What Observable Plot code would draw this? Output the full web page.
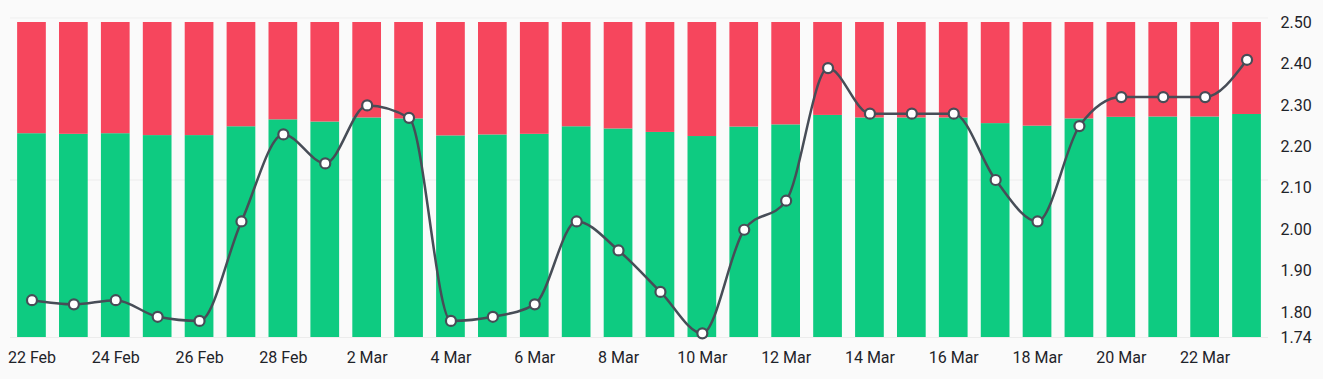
<!DOCTYPE html>
<html>
<head>
<meta charset="utf-8">
<script src="https://cdn.jsdelivr.net/npm/d3@7"></script>
<script src="https://cdn.jsdelivr.net/npm/@observablehq/plot@0.6"></script>
<style>
  html, body { margin: 0; padding: 0; background: #fafafa; }
  #chart { position: relative; width: 1323px; height: 379px; }
  #chart svg { position: absolute; left: 0; top: 0; }
</style>
</head>
<body>
<div id="chart"></div>
<script>
const days = ["22 Feb","23 Feb","24 Feb","25 Feb","26 Feb","27 Feb","28 Feb",
  "1 Mar","2 Mar","3 Mar","4 Mar","5 Mar","6 Mar","7 Mar","8 Mar","9 Mar","10 Mar",
  "11 Mar","12 Mar","13 Mar","14 Mar","15 Mar","16 Mar","17 Mar","18 Mar","19 Mar",
  "20 Mar","21 Mar","22 Mar","23 Mar"];
const rate = [1.83,1.82,1.83,1.79,1.78,2.02,2.23,2.16,2.30,2.27,1.78,1.79,1.82,2.02,1.95,
  1.85,1.75,2.00,2.07,2.39,2.28,2.28,2.28,2.12,2.02,2.25,2.32,2.32,2.32,2.41];
const greenPct = [64.7,64.5,64.7,64.1,64.1,66.9,69.1,68.4,69.7,69.4,64.0,64.3,64.5,66.9,66.2,
  65.1,63.8,66.8,67.5,70.5,69.7,69.7,69.7,67.9,67.1,69.4,69.9,70.0,70.0,70.8];
const yTicks = [1.74,1.80,1.90,2.00,2.10,2.20,2.30,2.40,2.50];

const rows = days.map((d, i) => ({day: d, rate: rate[i], green: greenPct[i]}));

const common = {
  width: 1323, height: 379,
  marginTop: 22, marginBottom: 42, marginLeft: 10, marginRight: 55,
  style: {background: "transparent", fontFamily: "Roboto, sans-serif", fontSize: "16px", color: "#1e2329", overflow: "visible"}
};
const xScale = {type: "band", domain: days, paddingInner: 0.315, paddingOuter: 0.17, round: false};

const bars = Plot.plot({
  ...common,
  x: {...xScale, axis: null},
  y: {domain: [0, 100], axis: null},
  marks: [
    Plot.ruleY([0, 50], {stroke: "#ececec", strokeWidth: 1}),
    Plot.ruleY([100], {stroke: "#efefef", strokeWidth: 1, dy: -4.5}),
    Plot.barY(rows, {x: "day", y1: 0, y2: "green", fill: "#0ecb81"}),
    Plot.barY(rows, {x: "day", y1: "green", y2: 100, fill: "#f6465d"})
  ]
});

const line = Plot.plot({
  ...common,
  x: {...xScale},
  y: {domain: [1.74, 2.50]},
  marks: [
    Plot.axisX({anchor: "bottom", tickSize: 0, tickPadding: 14, fill: "#1e2329", fontSize: 16, label: null,
      tickFormat: (d) => days.indexOf(d) % 2 === 0 ? d : ""}),
    Plot.axisY({anchor: "right", ticks: yTicks, tickSize: 0, tickPadding: 12, fontSize: 16,
      tickFormat: d3.format(".2f"), fill: "#1e2329", label: null}),
    Plot.line(rows, {x: "day", y: "rate", stroke: "#474d57", strokeWidth: 2.5, curve: "monotone-x"}),
    Plot.dot(rows, {x: "day", y: "rate", r: 5, fill: "white", stroke: "#474d57", strokeWidth: 2.2})
  ]
});

const el = document.getElementById("chart");
el.appendChild(bars);
el.appendChild(line);
</script>
</body>
</html>
